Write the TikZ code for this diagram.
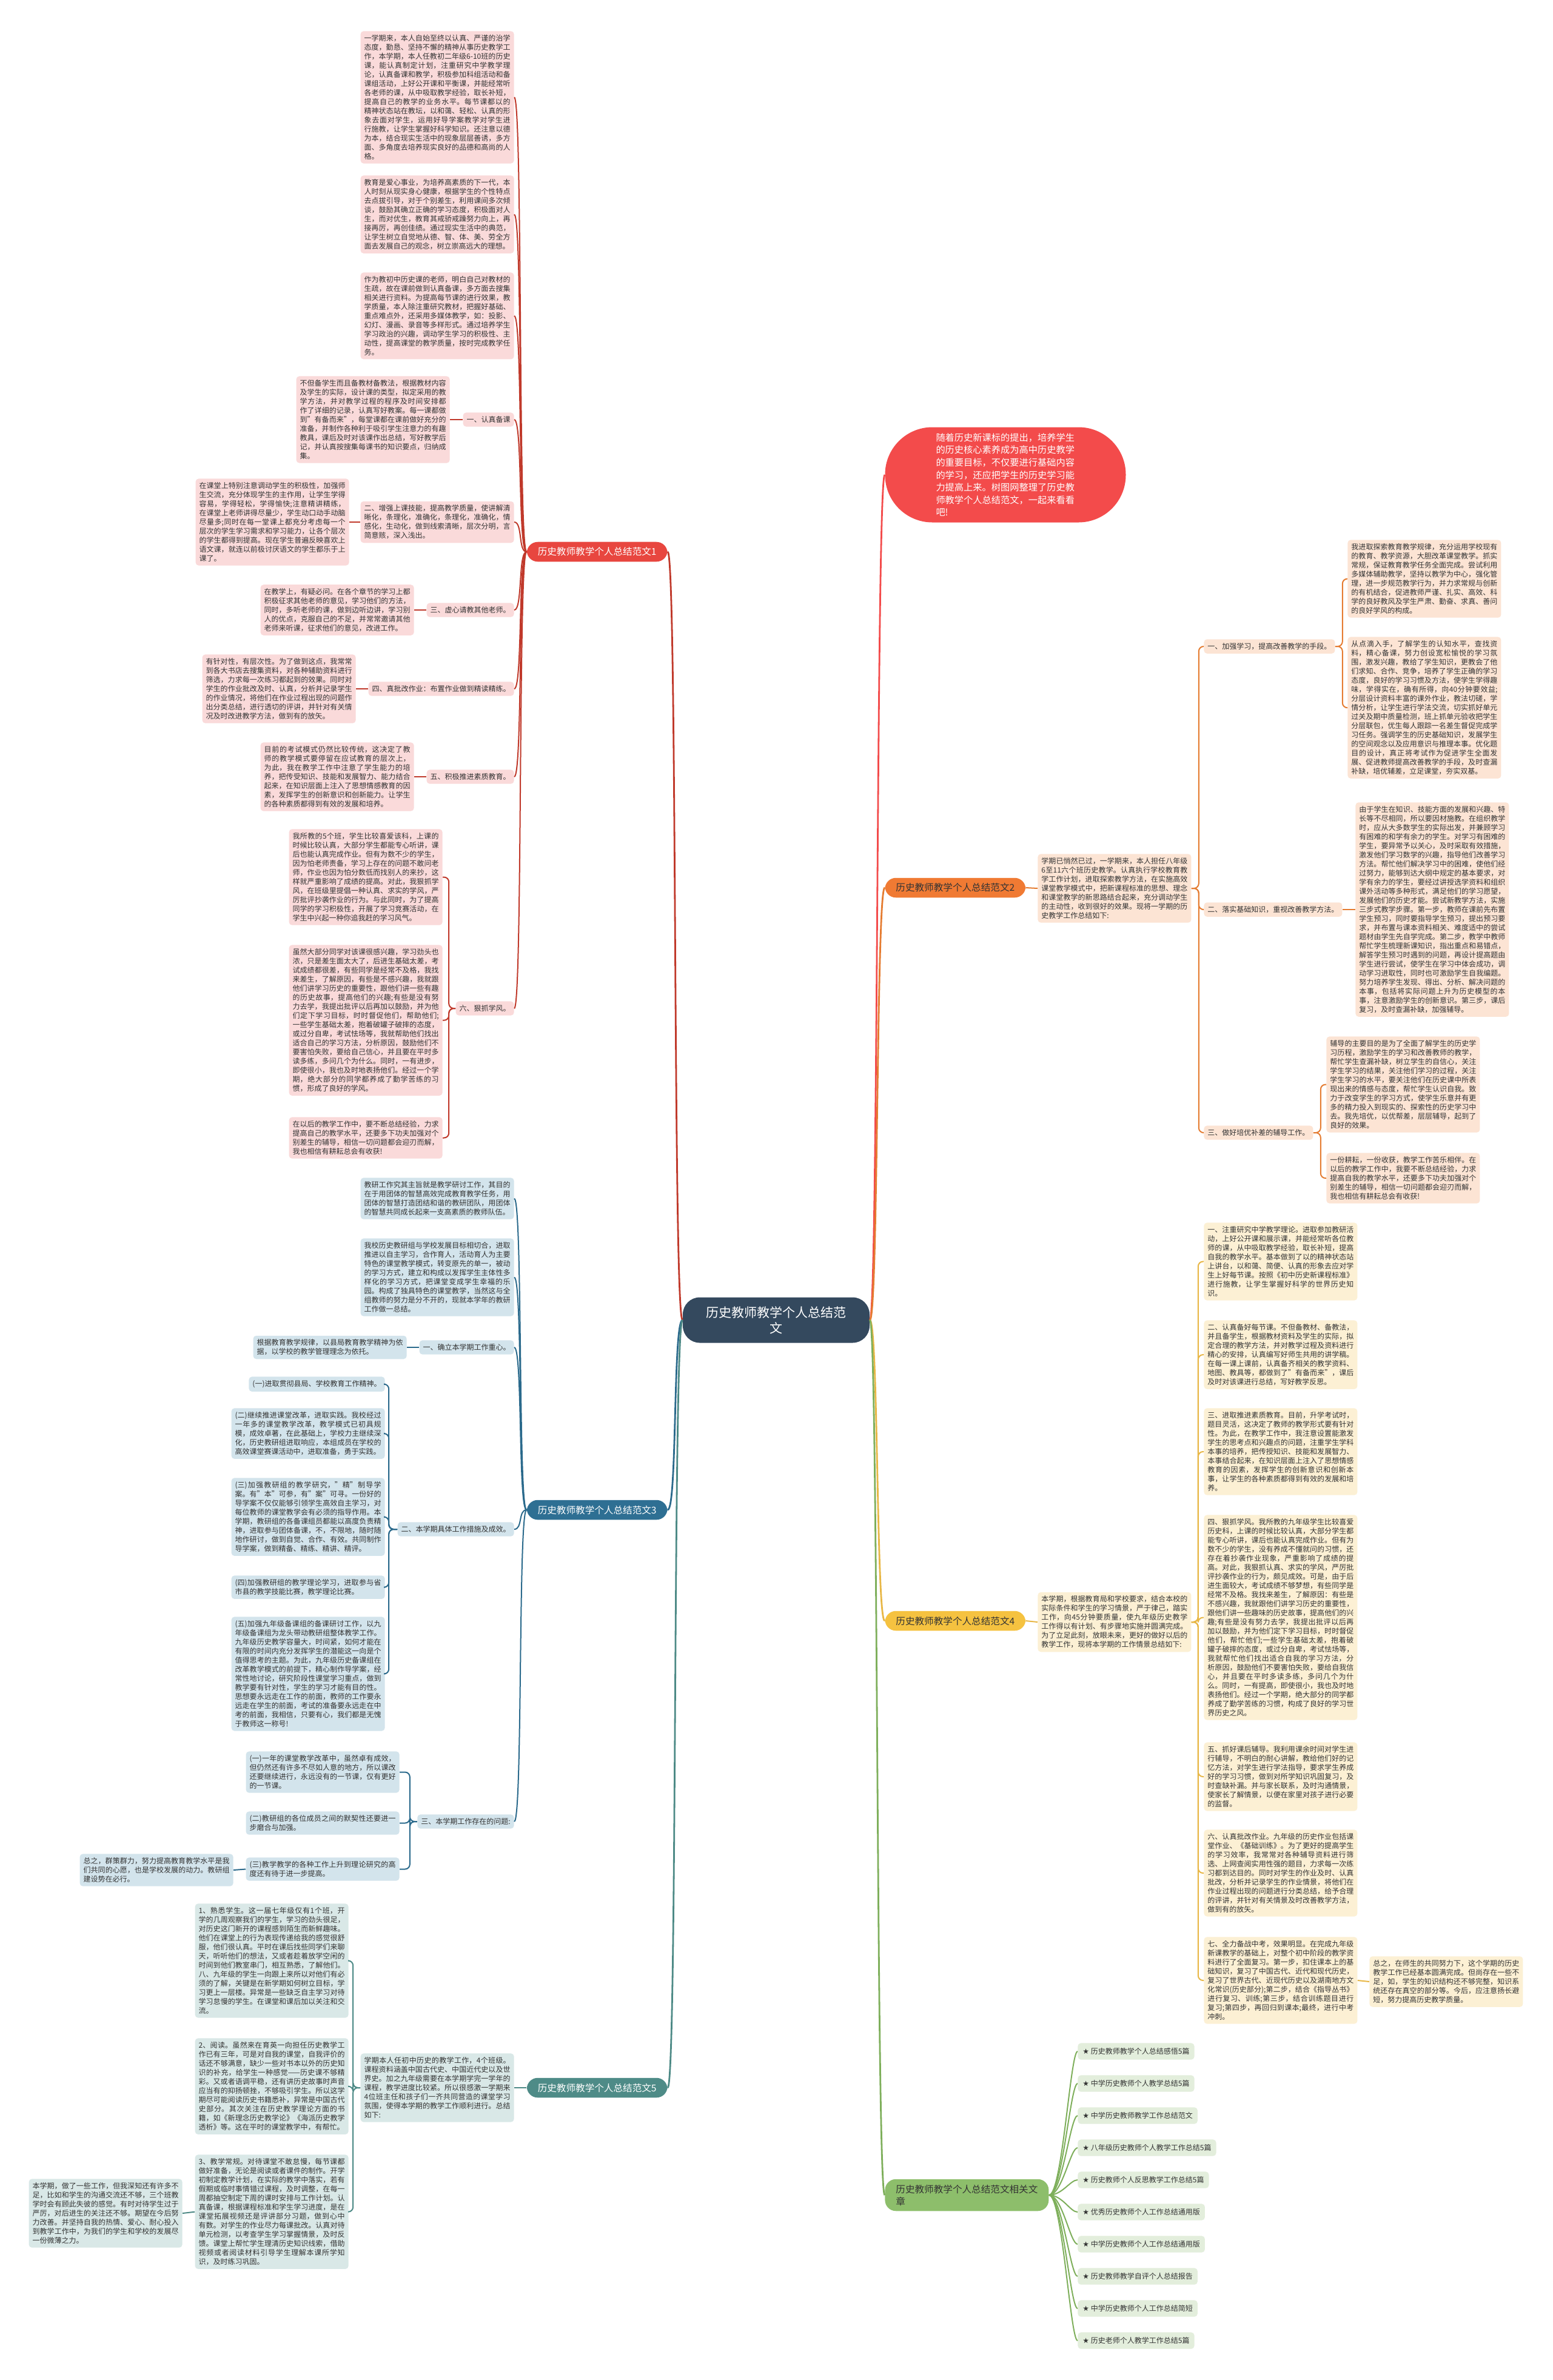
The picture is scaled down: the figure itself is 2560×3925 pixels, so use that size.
\documentclass[tikz,border=0pt]{standalone}
\usepackage{fontspec}
\setmainfont{Noto Sans CJK SC}
\newfontfamily\symfont{DejaVu Sans}
\usetikzlibrary{calc}
\XeTeXlinebreaklocale "zh"
\XeTeXlinebreakskip = 0pt plus 1pt
\newcommand\bodyf{\fontsize{6pt}{7.5pt}\selectfont}
\newcommand\lvlf{\fontsize{7.8pt}{10pt}\selectfont}
\definecolor{txtc}{HTML}{333333}
\definecolor{fA}{HTML}{FADADA}\definecolor{lA}{HTML}{C0392B}\definecolor{mA}{HTML}{E8463F}
\definecolor{fB}{HTML}{FCE4D4}\definecolor{lB}{HTML}{E57C31}\definecolor{mB}{HTML}{F07A33}
\definecolor{fC}{HTML}{D3E4EC}\definecolor{lC}{HTML}{2B6A8C}\definecolor{mC}{HTML}{2E6F93}
\definecolor{fD}{HTML}{FCF0D4}\definecolor{lD}{HTML}{E8B746}\definecolor{mD}{HTML}{F5C240}
\definecolor{fE}{HTML}{D9E8E7}\definecolor{lE}{HTML}{4D8A86}\definecolor{mE}{HTML}{4E8B87}
\definecolor{fF}{HTML}{E3EEDC}\definecolor{lF}{HTML}{7EAF5B}\definecolor{mF}{HTML}{8DBE6B}
\definecolor{cen}{HTML}{34495E}\definecolor{redn}{HTML}{F34B4B}
\tikzset{
  bx/.style={inner xsep=3pt, inner ysep=3pt, rounded corners=2.5pt, font=\bodyf, text=txtc},
  tw/.style={bx, text width=120.5pt, align=justify},
  one/.style={bx, align=left},
  kA/.style={fill=fA}, kB/.style={fill=fB}, kC/.style={fill=fC},
  kD/.style={fill=fD}, kE/.style={fill=fE}, kF/.style={fill=fF},
  lnA/.style={draw=lA, line width=1pt}, lnB/.style={draw=lB, line width=1pt},
  lnC/.style={draw=lC, line width=1pt}, lnD/.style={draw=lD, line width=1pt},
  lnE/.style={draw=lE, line width=1pt}, lnF/.style={draw=lF, line width=1pt},
  brk/.style={rounded corners=4pt},
  lvl/.style={font=\lvlf, inner xsep=9pt, inner ysep=4.5pt, rounded corners=9pt, align=left},
}
\begin{document}
\begin{tikzpicture}[x=0.5pt, y=-0.5pt]
\useasboundingbox (0,0) rectangle (2560,3925);
\fill[white] (0,0) rectangle (2560,3925);

% ---------- centre ----------
\node[fill=cen, text=white, font=\fontsize{10.5pt}{13pt}\selectfont, align=center, minimum width=154pt, minimum height=37.5pt, rounded corners=14pt] (C) at (1280,2177) {历史教师教学个人总结范\\文};

\node[fill=redn, text=white, font=\fontsize{7.6pt}{10.3pt}\selectfont, text width=114.5pt, align=left, minimum width=198.5pt, minimum height=78.5pt, rounded corners=39pt] (R) at (1658,783) {随着历史新课标的提出，培养学生的历史核心素养成为高中历史教学的重要目标，不仅要进行基础内容的学习，还应把学生的历史学习能力提高上来。树图网整理了历史教师教学个人总结范文，一起来看看吧!};

% ---------- branch 1 ----------
\node[lvl, fill=mA, text=white, anchor=east] (B1) at (1101,910) {历史教师教学个人总结范文1};
\node[tw,kA,anchor=north east] (a1) at (848,51) {一学期来，本人自始至终以认真、严谨的治学态度，勤恳、坚持不懈的精神从事历史教学工作，本学期，本人任教初二年级6-10班的历史课，能认真制定计划，注重研究中学教学理论，认真备课和教学，积极参加科组活动和备课组活动，上好公开课和平衡课，并能经常听各老师的课，从中吸取教学经验，取长补短，提高自己的教学的业务水平。每节课都以的精神状态站在教坛，以和蔼、轻松、认真的形象去面对学生，运用好导学案教学对学生进行施教，让学生掌握好科学知识。还注意以德为本，结合现实生活中的现象层层善诱，多方面、多角度去培养现实良好的品德和高尚的人格。};
\node[tw,kA,anchor=north east] (a2) at (848,289) {教育是爱心事业，为培养高素质的下一代，本人时刻从现实身心健康，根据学生的个性特点去点拔引导，对于个别差生，利用课间多次倾谈，鼓励其确立正确的学习态度，积极面对人生，而对优生，教育其戒骄戒躁努力向上，再接再厉，再创佳绩。通过现实生活中的典范，让学生树立自觉地从德、智、体、美、劳全方面去发展自己的观念，树立崇高远大的理想。};
\node[tw,kA,anchor=north east] (a3) at (848,449) {作为教初中历史课的老师，明白自己对教材的生疏，故在课前做到认真备课，多方面去搜集相关进行资料。为提高每节课的进行效果，教学质量，本人除注重研究教材，把握好基础、重点难点外，还采用多媒体教学，如：投影、幻灯、漫画、录音等多样形式。通过培养学生学习政治的兴趣，调动学生学习的积极性、主动性，提高课堂的教学质量，按时完成教学任务。};
\node[one,kA,anchor=east] (l1) at (848,692) {一、认真备课};
\node[tw,kA,anchor=east] (c1) at (742,692) {不但备学生而且备教材备教法，根据教材内容及学生的实际，设计课的类型，拟定采用的教学方法，并对教学过程的程序及时间安排都作了详细的记录，认真写好教案。每一课都做到"有备而来"，每堂课都在课前做好充分的准备，并制作各种利于吸引学生注意力的有趣教具，课后及时对该课作出总结，写好教学后记，并认真按搜集每课书的知识要点，归纳成集。};
\node[tw,kA,anchor=east] (l2) at (848,861) {二、增强上课技能，提高教学质量，使讲解清晰化，条理化，准确化，条理化，准确化，情感化，生动化，做到线索清晰，层次分明，言简意赅，深入浅出。};
\node[tw,kA,anchor=east] (c2) at (576,861) {在课堂上特别注意调动学生的积极性，加强师生交流，充分体现学生的主作用，让学生学得容易，学得轻松，学得愉快;注意精讲精练，在课堂上老师讲得尽量少，学生动口动手动脑尽量多;同时在每一堂课上都充分考虑每一个层次的学生学习需求和学习能力，让各个层次的学生都得到提高。现在学生普遍反映喜欢上语文课，就连以前极讨厌语文的学生都乐于上课了。};
\node[one,kA,anchor=east] (l3) at (848,1006) {三、虚心请教其他老师。};
\node[tw,kA,anchor=east] (c3) at (683,1006) {在教学上，有疑必问。在各个章节的学习上都积极征求其他老师的意见，学习他们的方法，同时，多听老师的课，做到边听边讲，学习别人的优点，克服自己的不足，并常常邀请其他老师来听课，征求他们的意见，改进工作。};
\node[one,kA,anchor=east] (l4) at (848,1136) {四、真批改作业：布置作业做到精读精练。};
\node[tw,kA,anchor=east] (c4) at (587,1136) {有针对性，有层次性。为了做到这点，我常常到各大书店去搜集资料，对各种辅助资料进行筛选，力求每一次练习都起到的效果。同时对学生的作业批改及时、认真，分析并记录学生的作业情况，将他们在作业过程出现的问题作出分类总结，进行透切的评讲，并针对有关情况及时改进教学方法，做到有的放矢。};
\node[one,kA,anchor=east] (l5) at (848,1281) {五、积极推进素质教育。};
\node[tw,kA,anchor=east] (c5) at (683,1281) {目前的考试模式仍然比较传统，这决定了教师的教学模式要停留在应试教育的层次上，为此，我在教学工作中注意了学生能力的培养，把传受知识、技能和发展智力、能力结合起来，在知识层面上注入了思想情感教育的因素，发挥学生的创新意识和创新能力。让学生的各种素质都得到有效的发展和培养。};
\node[one,kA,anchor=east] (l6) at (848,1663) {六、狠抓学风。};
\node[tw,kA,anchor=north east] (c6a) at (730,1367) {我所教的5个班，学生比较喜爱该科，上课的时候比较认真，大部分学生都能专心听讲，课后也能认真完成作业。但有为数不少的学生，因为怕老师责备，学习上存在的问题不敢问老师，作业也因为怕分数低而找别人的来抄，这样就严重影响了成绩的提高。对此，我狠抓学风，在班级里提倡一种认真、求实的学风，严厉批评抄袭作业的行为。与此同时，为了提高同学的学习积极性，开展了学习竞赛活动，在学生中兴起一种你追我赶的学习风气。};
\node[tw,kA,anchor=north east] (c6b) at (730,1558) {虽然大部分同学对该课很感兴趣，学习劲头也浓，只是差生面太大了，后进生基础太差，考试成绩都很差，有些同学是经常不及格，我找来差生，了解原因，有些是不感兴趣，我就跟他们讲学习历史的重要性，跟他们讲一些有趣的历史故事，提高他们的兴趣;有些是没有努力去学，我提出批评以后再加以鼓励，并为他们定下学习目标，时时督促他们，帮助他们;一些学生基础太差，抱着破罐子破摔的态度，或过分自卑，考试怯场等，我就帮助他们找出适合自己的学习方法，分析原因，鼓励他们不要害怕失败，要给自己信心，并且要在平时多读多练，多问几个为什么。同时，一有进步，即使很小，我也及时地表扬他们。经过一个学期，绝大部分的同学都养成了勤学苦练的习惯，形成了良好的学风。};
\node[tw,kA,anchor=north east] (c6c) at (730,1842) {在以后的教学工作中，要不断总结经验，力求提高自己的教学水平，还要多下功夫加强对个别差生的辅导，相信一切问题都会迎刃而解，我也相信有耕耘总会有收获!};
\foreach \n in {a1,a2,a3,l1,l2,l3,l4,l5,l6}
  \draw[lnA] (B1.west) .. controls +(-14,0) and +(14,0) .. (\n.east);
\foreach \p/\q in {l1/c1,l2/c2,l3/c3,l4/c4,l5/c5}
  \draw[lnA] (\p.west) -- (\q.east);
\foreach \n in {c6a,c6b,c6c}
  \draw[lnA,brk] (l6.west) -- ++(-11,0) |- (\n.east);

% ---------- branch 3 ----------
\node[lvl, fill=mC, text=white, anchor=east] (B3) at (1101,2490) {历史教师教学个人总结范文3};
\node[tw,kC,anchor=north east] (t1) at (848,1942) {教研工作究其主旨就是教学研讨工作，其目的在于用团体的智慧高效完成教育教学任务，用团体的智慧打造团结和谐的教研团队，用团体的智慧共同成长起来一支高素质的教师队伍。};
\node[tw,kC,anchor=north east] (t2) at (848,2042) {我校历史教研组与学校发展目标相切合，进取推进以自主学习，合作育人，活动育人为主要特色的课堂教学模式，转变原先的单一，被动的学习方式，建立和构成以发挥学生主体性多样化的学习方式，把课堂变成学生幸福的乐园。构成了独具特色的课堂教学，当然这与全组教师的努力是分不开的，现就本学年的教研工作做一总结。};
\node[one,kC,anchor=east] (m1) at (848,2222) {一、确立本学期工作重心。};
\node[tw,kC,anchor=east] (n1) at (671,2222) {根据教育教学规律，以县局教育教学精神为依据，以学校的教学管理理念为依托。};
\node[one,kC,anchor=east] (m2) at (848,2522) {二、本学期具体工作措施及成效。};
\node[one,kC,anchor=north east] (n2a) at (635,2270) {(一)进取贯彻县局、学校教育工作精神。};
\node[tw,kC,anchor=north east] (n2b) at (635,2322) {(二)继续推进课堂改革，进取实践。我校经过一年多的课堂教学改革，教学模式已初具规模，成效卓著，在此基础上，学校力主继续深化，历史教研组进取响应，本组成员在学校的高效课堂赛课活动中，进取准备，勇于实践。};
\node[tw,kC,anchor=north east] (n2c) at (635,2437) {(三)加强教研组的教学研究，"精"制导学案。有"本"可参，有"案"可寻。一份好的导学案不仅仅能够引领学生高效自主学习，对每位教师的课堂教学会有必须的指导作用。本学期，教研组的各备课组员都能以高度负责精神，进取参与团体备课，不，不限地，随时随地作研讨，做到自觉、合作、有效。共同制作导学案，做到精备、精练、精讲、精评。};
\node[tw,kC,anchor=north east] (n2d) at (635,2598) {(四)加强教研组的教学理论学习，进取参与省市县的教学技能比赛，教学理论比赛。};
\node[tw,kC,anchor=north east] (n2e) at (635,2666) {(五)加强九年级备课组的备课研讨工作，以九年级备课组为龙头带动教研组整体教学工作。九年级历史教学容量大，时间紧，如何才能在有限的时间内充分发挥学生的潜能这一向是个值得思考的主题。为此，九年级历史备课组在改革教学模式的前提下，精心制作导学案，经常性地讨论，研究阶段性课堂学习重点，做到教学要有针对性，学生的学习才能有目的性。思想要永远走在工作的前面，教师的工作要永远走在学生的前面，考试的准备要永远走在中考的前面，我相信，只要有心，我们都是无愧于教师这一称号!};
\node[one,kC,anchor=east] (m3) at (848,3004) {三、本学期工作存在的问题:};
\node[tw,kC,anchor=north east] (n3a) at (659,2888) {(一)一年的课堂教学改革中，虽然卓有成效，但仍然还有许多不尽如人意的地方，所以课改还要继续进行，永远没有的一节课，仅有更好的一节课。};
\node[tw,kC,anchor=north east] (n3b) at (659,2987) {(二)教研组的各位成员之间的默契性还要进一步磨合与加强。};
\node[tw,kC,anchor=north east] (n3c) at (659,3063) {(三)教学教学的各种工作上升到理论研究的高度还有待于进一步提高。};
\node[tw,kC,anchor=east] (n3d) at (385,3084) {总之，群策群力，努力提高教育教学水平是我们共同的心愿，也是学校发展的动力。教研组建设势在必行。};
\foreach \n in {t1,t2,m1,m2,m3}
  \draw[lnC] (B3.west) .. controls +(-14,0) and +(14,0) .. (\n.east);
\draw[lnC] (m1.west) -- (n1.east);
\foreach \n in {n2a,n2b,n2c,n2d,n2e}
  \draw[lnC,brk] (m2.west) -- ++(-14,0) |- (\n.east);
\foreach \n in {n3a,n3b,n3c}
  \draw[lnC,brk] (m3.west) -- ++(-12,0) |- (\n.east);
\draw[lnC] (n3c.west) -- (n3d.east);

% ---------- branch 5 ----------
\node[lvl, fill=mE, text=white, anchor=east] (B5) at (1101,3443) {历史教师教学个人总结范文5};
\node[tw,kE,anchor=east] (e0) at (848,3443) {学期本人任初中历史的教学工作，4个班级。课程资料涵盖中国古代史、中国近代史以及世界史。加之九年级需要在本学期学完一学年的课程，教学进度比较紧。所以很感激一学期来4位班主任和孩子们一齐共同营造的课堂学习氛围，使得本学期的教学工作顺利进行。总结如下:};
\node[tw,kE,anchor=north east] (e1) at (575,3139) {1、熟悉学生。这一届七年级仅有1个班，开学的几周观察我们的学生，学习的劲头很足，对历史这门新开的课程感到陌生而新鲜趣味。他们在课堂上的行为表现传递给我的感觉很舒服，他们很认真。平时在课后找些同学们来聊天，听听他们的想法，又或者趁着放学空闲的时间到他们教室串门，相互熟悉，了解他们。八、九年级的学生一向跟上来所以对他们有必须的了解，关键是在新学期如何树立目标，学习更上一层楼。异常是一些缺乏自主学习对待学习怠慢的学生。在课堂和课后加以关注和交流。};
\node[tw,kE,anchor=north east] (e2) at (575,3361) {2、阅读。虽然来在育英一向担任历史教学工作已有三年，可是对自我的课堂，自我评价的话还不够满意，缺少一些对书本以外的历史知识的补充，给学生一种感觉——历史课不够精彩。又或者语调平稳，还有讲历史故事时声音应当有的抑扬顿挫，不够吸引学生。所以这学期尽可能阅读历史书籍悉补，异常是中国古代史部分。其次关注在历史教学理论方面的书籍，如《新理念历史教学论》《海派历史教学透析》等。这在平时的课堂教学中，有帮忙。};
\node[tw,kE,anchor=north east] (e3) at (575,3553) {3、教学常规。对待课堂不敢怠慢，每节课都做好准备，无论是阅读或者课件的制作。开学初制定教学计划，在实际的教学中落实，若有假期或临时事情错过课程，及时调整，在每一周都抽空制定下周的课时安排与工作计划。认真备课，根据课程标准和学生学习进度，是在课堂拓展视频还是评讲部分习题，做到心中有数。对学生的作业尽力每课批改。认真对待单元检测，以考查学生学习掌握情景，及时反馈。课堂上帮忙学生理清历史知识线索，借助视频或者阅读材料引导学生理解本课所学知识，及时练习巩固。};
\node[tw,kE,anchor=east] (e4) at (301,3650) {本学期，做了一些工作，但我深知还有许多不足，比如和学生的沟通交流还不够，三个班教学时会有顾此失彼的感觉。有时对待学生过于严厉，对后进生的关注还不够。期望在今后努力改善。并坚持自我的热情、爱心、耐心投入到教学工作中，为我们的学生和学校的发展尽一份微薄之力。};
\draw[lnE] (B5.west) -- (e0.east);
\foreach \n in {e1,e2,e3}
  \draw[lnE,brk] (e0.west) -- ++(-12,0) |- (\n.east);
\draw[lnE] (e3.west) -- (e4.east);

% ---------- branch 2 ----------
\node[lvl, fill=mB, text=txtc, anchor=west] (B2) at (1459,1464) {历史教师教学个人总结范文2};
\node[tw,kB,anchor=west] (g0) at (1711,1465) {学期已悄然已过，一学期来，本人担任八年级6至11六个班历史教学。认真执行学校教育教学工作计划，进取探索教学方法，在实施高效课堂教学模式中，把新课程标准的思想、理念和课堂教学的新思路结合起来，充分调动学生的主动性，收到很好的效果。现将一学期的历史教学工作总结如下:};
\node[one,kB,anchor=west] (h1) at (1985,1066) {一、加强学习，提高改善教学的手段。};
\node[tw,kB,anchor=north west] (h1a) at (2222,890) {我进取探索教育教学规律，充分运用学校现有的教育、教学资源，大胆改革课堂教学。抓实常规，保证教育教学任务全面完成。尝试利用多媒体辅助教学，坚持以教学为中心，强化管理，进一步规范教学行为，并力求常规与创新的有机结合，促进教师严谨、扎实、高效、科学的良好教风及学生严肃、勤奋、求真、善问的良好学风的构成。};
\node[tw,kB,anchor=north west] (h1b) at (2222,1050) {从点滴入手，了解学生的认知水平，查找资料，精心备课，努力创设宽松愉悦的学习氛围，激发兴趣，教给了学生知识，更教会了他们求知、合作、竞争，培养了学生正确的学习态度，良好的学习习惯及方法，使学生学得趣味，学得实在，确有所得，向40分钟要效益;分层设计资料丰富的课外作业，教法切磋，学情分析，让学生进行学法交流，切实抓好单元过关及期中质量检测，班上抓单元验收把学生分层联包，优生每人跟踪一名差生督促完成学习任务。强调学生的历史基础知识，发展学生的空间观念以及应用意识与推理本事。优化题目的设计，真正将考试作为促进学生全面发展、促进教师提高改善教学的手段，及时查漏补缺，培优辅差，立足课堂，夯实双基。};
\node[one,kB,anchor=west] (h2) at (1985,1500) {二、落实基础知识，重视改善教学方法。};
\node[tw,kB,anchor=west] (h2a) at (2235,1500) {由于学生在知识、技能方面的发展和兴趣、特长等不尽相同，所以要因材施教。在组织教学时，应从大多数学生的实际出发，并兼顾学习有困难的和学有余力的学生。对学习有困难的学生，要异常予以关心，及时采取有效措施，激发他们学习数学的兴趣，指导他们改善学习方法。帮忙他们解决学习中的困难，使他们经过努力，能够到达大纲中规定的基本要求，对学有余力的学生，要经过讲授选学资料和组织课外活动等多种形式，满足他们的学习愿望，发展他们的历史才能。尝试新教学方法，实施三步式教学步骤。第一步，教师在课前先布置学生预习，同时要指导学生预习，提出预习要求，并布置与课本资料相关、难度适中的尝试题材由学生先自学完成。第二步，教学中教师帮忙学生梳理新课知识，指出重点和易错点，解答学生预习时遇到的问题，再设计提高题由学生进行尝试，使学生在学习中体会成功，调动学习进取性，同时也可激励学生自我编题。努力培养学生发现、得出、分析、解决问题的本事，包括将实际问题上升为历史模型的本事，注意激励学生的创新意识。第三步，课后复习，及时查漏补缺，加强辅导。};
\node[one,kB,anchor=west] (h3) at (1985,1868) {三、做好培优补差的辅导工作。};
\node[tw,kB,anchor=north west] (h3a) at (2187,1709) {辅导的主要目的是为了全面了解学生的历史学习历程，激励学生的学习和改善教师的教学，帮忙学生查漏补缺，树立学生的自信心，关注学生学习的结果，关注他们学习的过程，关注学生学习的水平，要关注他们在历史课中所表现出来的情感与态度，帮忙学生认识自我。致力于改变学生的学习方式，使学生乐意并有更多的精力投入到现实的、探索性的历史学习中去。我先培优，以优帮差，层层辅导，起到了良好的效果。};
\node[tw,kB,anchor=north west] (h3b) at (2187,1901) {一份耕耘，一份收获，教学工作苦乐相伴。在以后的教学工作中，我要不断总结经验，力求提高自我的教学水平，还要多下功夫加强对个别差生的辅导，相信一切问题都会迎刃而解，我也相信有耕耘总会有收获!};
\draw[lnB] (B2.east) -- (g0.west);
\foreach \n in {h1,h2,h3}
  \draw[lnB,brk] (g0.east) -- ++(12,0) |- (\n.west);
\foreach \n in {h1a,h1b}
  \draw[lnB,brk] (h1.east) -- ++(12,0) |- (\n.west);
\draw[lnB] (h2.east) -- (h2a.west);
\foreach \n in {h3a,h3b}
  \draw[lnB,brk] (h3.east) -- ++(12,0) |- (\n.west);

% ---------- branch 4 ----------
\node[lvl, fill=mD, text=txtc, anchor=west] (B4) at (1459,2673) {历史教师教学个人总结范文4};
\node[tw,kD,anchor=west] (p0) at (1711,2675) {本学期，根据教育局和学校要求，结合本校的实际条件和学生的学习情景，严于律己，踏实工作，向45分钟要质量，使九年级历史教学工作得以有计划、有步骤地实施并圆满完成。为了立足此刻，放眼未来，更好的做好以后的教学工作，现将本学期的工作情景总结如下:};
\node[tw,kD,anchor=north west] (p1) at (1985,2016) {一、注重研究中学教学理论。进取参加教研活动，上好公开课和展示课，并能经常听各位教师的课，从中吸取教学经验，取长补短，提高自我的教学水平。基本做到了以的精神状态站上讲台，以和蔼、简便、认真的形象去应对学生上好每节课。按照《初中历史新课程标准》进行施教，让学生掌握好科学的世界历史知识。};
\node[tw,kD,anchor=north west] (p2) at (1985,2177) {二、认真备好每节课。不但备教材、备教法，并且备学生，根据教材资料及学生的实际，拟定合理的教学方法，并对教学过程及资料进行精心的安排，认真编写好师生共用的讲学稿。在每一课上课前，认真备齐相关的教学资料、地图、教具等，都做到了"有备而来"，课后及时对该课进行总结，写好教学反思。};
\node[tw,kD,anchor=north west] (p3) at (1985,2322) {三、进取推进素质教育。目前，升学考试时，题目灵活，这决定了教师的教学形式要有针对性。为此，在教学工作中，我注意设置能激发学生的思考点和兴趣点的问题，注重学生学科本事的培养，把传授知识、技能和发展智力、本事结合起来，在知识层面上注入了思想情感教育的因素，发挥学生的创新意识和创新本事，让学生的各种素质都得到有效的发展和培养。};
\node[tw,kD,anchor=north west] (p4) at (1985,2498) {四、狠抓学风。我所教的九年级学生比较喜爱历史科，上课的时候比较认真，大部分学生都能专心听讲，课后也能认真完成作业。但有为数不少的学生，没有养成不懂就问的习惯，还存在着抄袭作业现象，严重影响了成绩的提高。对此，我狠抓认真、求实的学风，严厉批评抄袭作业的行为，颇见成效。可是，由于后进生面较大，考试成绩不够梦想，有些同学是经常不及格。我找来差生，了解原因：有些是不感兴趣，我就跟他们讲学习历史的重要性，跟他们讲一些趣味的历史故事，提高他们的兴趣;有些是没有努力去学，我提出批评以后再加以鼓励，并为他们定下学习目标，时时督促他们，帮忙他们;一些学生基础太差，抱着破罐子破摔的态度，或过分自卑，考试怯场等，我就帮忙他们找出适合自我的学习方法，分析原因，鼓励他们不要害怕失败，要给自我信心，并且要在平时多读多练，多问几个为什么。同时，一有提高，即使很小，我也及时地表扬他们。经过一个学期，绝大部分的同学都养成了勤学苦练的习惯，构成了良好的学习世界历史之风。};
\node[tw,kD,anchor=north west] (p5) at (1985,2873) {五、抓好课后辅导。我利用课余时间对学生进行辅导，不明白的耐心讲解，教给他们好的记忆方法，对学生进行学法指导，要求学生养成好的学习习惯，做到对所学知识巩固复习，及时查缺补漏。并与家长联系，及时沟通情景，使家长了解情景，以便在家里对孩子进行必要的监督。};
\node[tw,kD,anchor=north west] (p6) at (1985,3017) {六、认真批改作业。九年级的历史作业包括课堂作业、《基础训练》。为了更好的提高学生的学习效率，我常常对各种辅导资料进行筛选、上网查阅实用性强的题目，力求每一次练习都到达目的。同时对学生的作业及时、认真批改，分析并记录学生的作业情景，将他们在作业过程出现的问题进行分类总结，给予合理的评讲，并针对有关情景及时改善教学方法，做到有的放矢。};
\node[tw,kD,anchor=north west] (p7) at (1985,3194) {七、全力备战中考，效果明显。在完成九年级新课教学的基础上，对整个初中阶段的教学资料进行了全面复习。第一步，扣住课本上的基础知识，复习了中国古代、近代和现代历史，复习了世界古代、近现代历史以及湖南地方文化常识(历史部分);第二步，结合《指导丛书》进行复习、训练;第三步，结合训练题目进行复习;第四步，再回归到课本;最终，进行中考冲刺。};
\node[tw,kD,anchor=west] (p8) at (2258,3268) {总之，在师生的共同努力下，这个学期的历史教学工作已经基本圆满完成。但尚存在一些不足，如，学生的知识结构还不够完整，知识系统还存在真空的部分等。今后，应注意扬长避短，努力提高历史教学质量。};
\draw[lnD] (B4.east) -- (p0.west);
\foreach \n in {p1,p2,p3,p4,p5,p6,p7}
  \draw[lnD,brk] (p0.east) -- ++(11,0) |- (\n.west);
\draw[lnD] (p7.east) -- (p8.west);

% ---------- branch 6 ----------
\node[lvl, fill=mF, text=txtc, anchor=west] (B6) at (1459,3620) {历史教师教学个人总结范文相关文\\章};
\foreach \i/\y/\t in {1/3383/历史教师教学个人总结感悟5篇, 2/3436/中学历史教师个人教学总结5篇, 3/3489/中学历史教师教学工作总结范文, 4/3542/八年级历史教师个人教学工作总结5篇, 5/3595/历史教师个人反思教学工作总结5篇, 6/3648/优秀历史教师个人工作总结通用版, 7/3701/中学历史教师个人工作总结通用版, 8/3754/历史教师教学自评个人总结报告, 9/3807/中学历史教师个人工作总结简短, 10/3860/历史老师个人教学工作总结5篇}{
  \node[one,kF,anchor=west,inner xsep=4pt, inner ysep=4pt] (q\i) at (1777,\y) {{\symfont ★} \t};
  \draw[lnF] (B6.east) .. controls +(22,0) and +(-12,0) .. (q\i.west);
}

% ---------- centre connectors ----------
\draw[lA, line width=1.4pt] (C.west) .. controls +(-16,0) and +(16,0) .. (B1.east);
\draw[lC, line width=1.4pt] (C.west) .. controls +(-16,0) and +(16,0) .. (B3.east);
\draw[lE, line width=1.4pt] (C.west) .. controls +(-16,0) and +(16,0) .. (B5.east);
\draw[redn, line width=1.4pt] (C.east) .. controls +(14,0) and +(-14,0) .. (R.west);
\draw[lB, line width=1.4pt] (C.east) .. controls +(14,0) and +(-14,0) .. (B2.west);
\draw[lD, line width=1.4pt] (C.east) .. controls +(14,0) and +(-14,0) .. (B4.west);
\draw[lF, line width=1.4pt] (C.east) .. controls +(14,0) and +(-14,0) .. (B6.west);
\end{tikzpicture}
\end{document}
